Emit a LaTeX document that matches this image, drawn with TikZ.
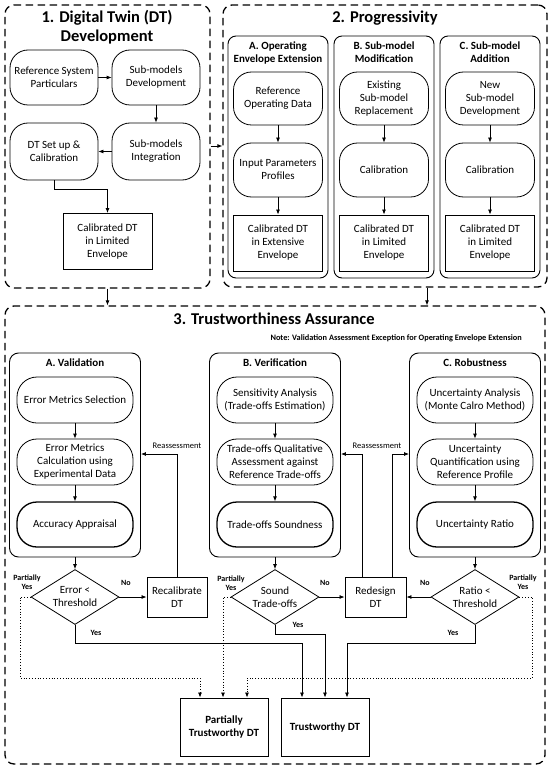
\documentclass[tikz,border=0pt]{standalone}
\usepackage{fontspec}
\setmainfont{Carlito}
\usetikzlibrary{shapes.geometric,arrows.meta}
\begin{document}
\begin{tikzpicture}[x=1pt,y=-1pt,
  body/.style={font=\fontsize{11}{13}\selectfont},
  rn/.style={draw, rounded corners=18pt, align=center, minimum width=88pt, minimum height=55pt, inner sep=1pt, line width=0.8pt, body},
  rb/.style={draw, align=center, minimum width=89pt, minimum height=56pt, inner sep=1pt, line width=0.9pt, body},
  sn/.style={draw, rounded corners=20pt, align=center, minimum width=116pt, minimum height=46pt, inner sep=1pt, line width=0.8pt, body},
  thk/.style={line width=1.3pt},
  panel/.style={draw, rounded corners=9pt, line width=0.9pt},
  dbox/.style={draw, rounded corners=9pt, line width=1.3pt, dash pattern=on 7.5pt off 4.5pt},
  dec/.style={diamond, draw, aspect=1.6, minimum width=88pt, minimum height=55pt, inner sep=0pt, align=center, line width=0.8pt, body},
  lab/.style={font=\bfseries\fontsize{8}{9.5}\selectfont, align=center},
  rlab/.style={font=\fontsize{8.5}{9}\selectfont},
  bigtitle/.style={font=\bfseries\fontsize{16.5}{19}\selectfont, align=center},
  ptitle/.style={font=\bfseries\fontsize{11}{13}\selectfont, align=center},
  arr/.style={-{Latex[length=5pt,width=4pt]}, line width=0.8pt},
  darr/.style={arr, dotted}
]
\useasboundingbox (0,0) rectangle (550,770);
\fill[white] (0,0) rectangle (550,770);

% ---------- dashed boxes ----------
\node[dbox, minimum width=205pt, minimum height=283pt] (box1) at (107.5,146.5) {};
\node[dbox, minimum width=324pt, minimum height=282pt] (box2) at (385,146) {};
\node[dbox, minimum width=540pt, minimum height=458pt] (box3) at (275,535) {};

\node[bigtitle] (t1) at (107,27.5) {1. Digital Twin (DT)\\Development};
\node[bigtitle] (t2) at (385,18) {2. Progressivity};
\node[bigtitle] (t3) at (274,319) {3. Trustworthiness Assurance};
\node[font=\bfseries\fontsize{8.3}{9}\selectfont, anchor=east, inner sep=0pt] (note) at (522,338) {Note: Validation Assessment Exception for Operating Envelope Extension};

% ---------- box 1 ----------
\node[rn] (ref) at (54,77.5) {Reference System\\Particulars};
\node[rn] (sdev) at (156,77.5) {Sub-models\\Development};
\node[rn, minimum height=57pt] (sint) at (156,151.5) {Sub-models\\Integration};
\node[rn, minimum height=57pt] (dts) at (54,151.5) {DT Set up \&\\Calibration};
\node[rb] (cal1) at (107.5,241.5) {Calibrated DT\\in Limited\\Envelope};
\draw[arr] (ref) -- (sdev);
\draw[arr] (sdev) -- (sint);
\draw[arr] (sint) -- (dts);
\draw[arr] (dts.south) -- ++(0,8.5) -| (cal1.north);

% ---------- box 2 ----------
\node[panel, rounded corners=8pt, minimum width=100pt, minimum height=242pt] (pa) at (278,157) {};
\node[panel, rounded corners=8pt, minimum width=100pt, minimum height=242pt] (pb) at (384,157) {};
\node[panel, rounded corners=8pt, minimum width=100pt, minimum height=242pt] (pc) at (490,157) {};
\node[ptitle] (pat) at (278,52.5) {A. Operating\\Envelope Extension};
\node[ptitle] (pbt) at (384,52.5) {B. Sub-model\\Modification};
\node[ptitle] (pct) at (490,52.5) {C. Sub-model\\Addition};

\node[rn, minimum width=89pt, minimum height=53pt] (a1) at (278,98.5) {Reference\\Operating Data};
\node[rn, minimum width=89pt, minimum height=54pt] (a2) at (278,170) {Input Parameters\\Profiles};
\node[rb] (a3) at (278,243) {Calibrated DT\\in Extensive\\Envelope};
\node[rn, minimum width=89pt, minimum height=53pt] (b1) at (384,98.5) {Existing\\Sub-model\\Replacement};
\node[rn, minimum width=89pt, minimum height=54pt] (b2) at (384,170) {Calibration};
\node[rb] (b3) at (384,243) {Calibrated DT\\in Limited\\Envelope};
\node[rn, minimum width=89pt, minimum height=53pt] (c1) at (490,98.5) {New\\Sub-model\\Development};
\node[rn, minimum width=89pt, minimum height=54pt] (c2) at (490,170) {Calibration};
\node[rb] (c3) at (490,243) {Calibrated DT\\in Limited\\Envelope};
\draw[arr] (a1) -- (a2); \draw[arr] (a2) -- (a3);
\draw[arr] (b1) -- (b2); \draw[arr] (b2) -- (b3);
\draw[arr] (c1) -- (c2); \draw[arr] (c2) -- (c3);

% ---------- links between boxes ----------
\coordinate (y146) at (0,146);
\coordinate (x427) at (427,0);
\draw[arr] (box1.east |- y146) -- (box2.west |- y146);
\draw[arr] (box1.south -| cal1) -- (box3.north -| cal1);
\draw[arr] (box2.south -| x427) -- (box3.north -| x427);

% ---------- box 3 panels ----------
\node[panel, minimum width=131pt, minimum height=204pt] (vA) at (75,455) {};
\node[panel, minimum width=131pt, minimum height=204pt] (vB) at (275,455) {};
\node[panel, minimum width=131pt, minimum height=204pt] (vC) at (475,455) {};
\node[ptitle] (vAt) at (75,363) {A. Validation};
\node[ptitle] (vBt) at (275,363) {B. Verification};
\node[ptitle] (vCt) at (475,363) {C. Robustness};

\node[sn] (e1) at (75,400) {Error Metrics Selection};
\node[sn] (e2) at (75,462) {Error Metrics\\Calculation using\\Experimental Data};
\node[sn, thk, minimum height=45pt] (e3) at (75,524.5) {Accuracy Appraisal};
\node[sn] (s1) at (275,400) {Sensitivity Analysis\\(Trade-offs Estimation)};
\node[sn] (s2) at (275,462) {Trade-offs Qualitative\\Assessment against\\Reference Trade-offs};
\node[sn, thk, minimum height=45pt] (s3) at (275,524.5) {Trade-offs Soundness};
\node[sn] (u1) at (475,400) {Uncertainty Analysis\\(Monte Calro Method)};
\node[sn] (u2) at (475,462) {Uncertainty\\Quantification using\\Reference Profile};
\node[sn, thk, minimum height=45pt] (u3) at (475,524.5) {Uncertainty Ratio};
\draw[arr] (e1) -- (e2); \draw[arr] (e2) -- (e3);
\draw[arr] (s1) -- (s2); \draw[arr] (s2) -- (s3);
\draw[arr] (u1) -- (u2); \draw[arr] (u2) -- (u3);

% ---------- decisions ----------
\node[dec] (dA) at (75,597) {Error <\\Threshold};
\node[dec] (dB) at (275,597) {Sound\\Trade-offs};
\node[dec] (dC) at (475,597) {Ratio <\\Threshold};
\node[draw, line width=0.9pt, minimum width=60pt, minimum height=40pt, align=center, body] (recal) at (177,597) {Recalibrate\\DT};
\node[draw, line width=0.9pt, minimum width=61pt, minimum height=40pt, align=center, body] (redes) at (375.5,597) {Redesign\\DT};
\draw[arr] (vA.south -| dA) -- (dA.north);
\draw[arr] (vB.south -| dB) -- (dB.north);
\draw[arr] (vC.south -| dC) -- (dC.north);
\draw[arr] (dA.east) -- (recal.west);
\draw[arr] (dB.east) -- (redes.west);
\draw[arr] (dC.west) -- (redes.east);

\node[lab] (noA) at (126,583) {No};
\node[lab] (noB) at (325,583) {No};
\node[lab] (noC) at (425,583) {No};
\node[lab] (pyA) at (27,582) {Partially\\Yes};
\node[lab] (pyB) at (231,583) {Partially\\Yes};
\node[lab] (pyC) at (523,582) {Partially\\Yes};
\node[lab] (yA) at (96,633) {Yes};
\node[lab] (yB) at (298,625) {Yes};
\node[lab] (yC) at (453,633) {Yes};

% ---------- reassessment ----------
\coordinate (ra) at (177,454);
\coordinate (rb1) at (362,454);
\coordinate (rb2) at (392,454);
\draw[arr] (recal.north) -- (ra) -- (ra -| vA.east);
\draw[arr] (rb1 |- redes.north) -- (rb1) -- (rb1 -| vB.east);
\draw[arr] (rb2 |- redes.north) -- (rb2) -- (rb2 -| vC.west);
\node[rlab] (rla) at (177,446) {Reassessment};
\node[rlab] (rlb) at (377,446) {Reassessment};

% ---------- outcomes ----------
\node[draw, line width=0.9pt, minimum width=88pt, minimum height=58pt, align=center, font=\bfseries\fontsize{11}{13}\selectfont] (pt) at (224,727) {Partially\\Trustworthy DT};
\node[draw, line width=0.9pt, minimum width=88pt, minimum height=58pt, align=center, font=\bfseries\fontsize{11}{13}\selectfont] (tw) at (325,727) {Trustworthy DT};

\coordinate (pa1) at (20,678);
\coordinate (pc1) at (532,678);
\draw[darr] (dA.west) -| (pa1) -| ([xshift=-24pt]pt.north);
\draw[darr] (dB.west) -| ([xshift=-1pt]pt.north);
\draw[darr] (dC.east) -| (pc1) -| ([xshift=23pt]pt.north);

\draw[arr] (dA.south) -- ++(0,18.5) -| ([xshift=-23pt]tw.north);
\draw[arr] (dB.south) -- ++(0,9.5) -| (tw.north);
\draw[arr] (dC.south) -- ++(0,18.5) -| ([xshift=22pt]tw.north);
\end{tikzpicture}
\end{document}
